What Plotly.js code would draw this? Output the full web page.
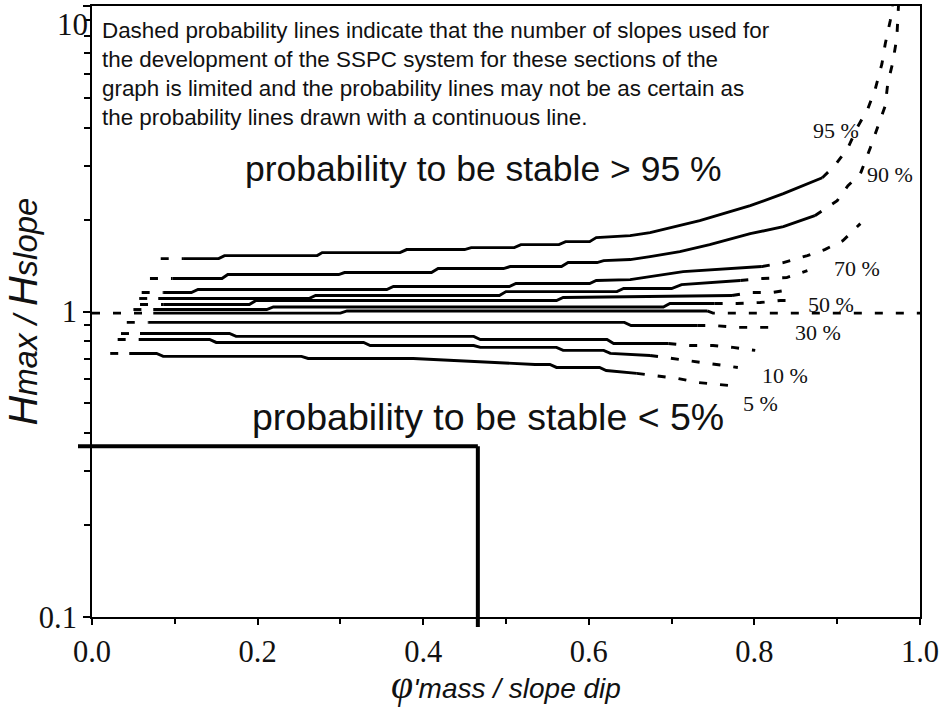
<!DOCTYPE html>
<html>
<head>
<meta charset="utf-8">
<script src="https://cdn.plot.ly/plotly-3.0.1.min.js"></script>
<style>
  html, body { margin: 0; padding: 0; background: #ffffff; }
  #chart { width: 952px; height: 707px; }
</style>
</head>
<body>
<div id="chart"></div>
<script>
// Probability-of-stability lines: phi'mass / slope dip (x) against Hmax / Hslope (y, log).
// Each level has a continuous (well-supported) part and dashed (sparse data) parts.

const levelNames = ['95 %', '90 %', '80 %', '70 %', '60 %', '50 %', '40 %', '30 %', '20 %', '10 %', '5 %'];

// 95 %
const x95 = [0.110, 0.153, 0.160, 0.272, 0.278, 0.372, 0.380, 0.450, 0.458, 0.510, 0.518, 0.564, 0.572, 0.601, 0.609, 0.650, 0.674, 0.734, 0.795, 0.835, 0.882];
const y95 = [1.490, 1.490, 1.524, 1.524, 1.559, 1.559, 1.595, 1.595, 1.619, 1.619, 1.656, 1.656, 1.693, 1.693, 1.745, 1.771, 1.812, 1.984, 2.220, 2.430, 2.741];
const x95d = [0.083, 0.110, null, 0.882, 0.897, 0.913, 0.924, 0.937, 0.946, 0.954, 0.958, 0.964, 0.967];
const y95d = [1.490, 1.490, null, 2.741, 3.000, 3.435, 3.993, 4.607, 5.356, 6.464, 7.511, 8.933, 10.0];

// 90 %
const x90 = [0.097, 0.157, 0.164, 0.298, 0.305, 0.410, 0.418, 0.497, 0.505, 0.567, 0.575, 0.610, 0.618, 0.650, 0.674, 0.710, 0.746, 0.795, 0.835, 0.873];
const y90 = [1.282, 1.282, 1.321, 1.321, 1.341, 1.341, 1.382, 1.382, 1.403, 1.403, 1.446, 1.446, 1.468, 1.479, 1.513, 1.571, 1.656, 1.798, 1.896, 2.059];
const x90d = [0.070, 0.097, null, 0.873, 0.900, 0.913, 0.928, 0.940, 0.949, 0.958, 0.961, 0.967, 0.972, 0.973, 0.974];
const y90d = [1.282, 1.282, null, 2.059, 2.305, 2.581, 2.825, 3.435, 3.993, 4.712, 5.561, 6.512, 7.862, 9.277, 10.0];

// 80 %
const x80 = [0.086, 0.120, 0.128, 0.356, 0.364, 0.504, 0.512, 0.601, 0.609, 0.650, 0.714, 0.758, 0.809];
const y80 = [1.154, 1.154, 1.180, 1.180, 1.207, 1.207, 1.235, 1.235, 1.263, 1.272, 1.351, 1.372, 1.403];
const x80d = [0.060, 0.086, null, 0.809, 0.835, 0.864, 0.885, 0.907, 0.928];
const y80d = [1.154, 1.154, null, 1.403, 1.446, 1.524, 1.595, 1.706, 1.939];

// 70 %
const x70 = [0.080, 0.262, 0.270, 0.492, 0.500, 0.634, 0.642, 0.700, 0.712, 0.783];
const y70 = [1.103, 1.103, 1.128, 1.128, 1.162, 1.162, 1.189, 1.189, 1.225, 1.263];
const x70d = [0.057, 0.080, null, 0.783, 0.810, 0.839, 0.864];
const y70d = [1.103, 1.103, null, 1.263, 1.282, 1.291, 1.361];

// 60 %
const x60 = [0.086, 0.190, 0.198, 0.561, 0.569, 0.773];
const y60 = [1.054, 1.054, 1.086, 1.086, 1.111, 1.128];
const x60d = [0.058, 0.086, null, 0.773, 0.795, 0.821, 0.845];
const y60d = [1.054, 1.054, null, 1.128, 1.154, 1.154, 1.180];

// 50 %
const x50 = [0.074, 0.211, 0.219, 0.690, 0.698, 0.752];
const y50 = [1.015, 1.015, 1.035, 1.035, 1.062, 1.062];
const x50d = [0.050, 0.074, null, 0.752, 0.779, 0.807, 0.831, 0.853];
const y50d = [1.015, 1.015, null, 1.062, 1.062, 1.070, 1.086, 1.086];

// 40 %
const x40 = [0.074, 0.300, 0.308, 0.743];
const y40 = [0.988, 0.988, 1.004, 1.004];
const x40d = [0.0, 0.074, null, 0.743, 0.750, 1.0];
const y40d = [0.988, 0.988, null, 1.004, 0.988, 0.988];

// 30 %
const x30 = [0.068, 0.643, 0.651, 0.731];
const y30 = [0.921, 0.921, 0.900, 0.900];
const x30d = [0.042, 0.068, null, 0.731, 0.750, 0.779, 0.803, 0.829];
const y30d = [0.921, 0.921, null, 0.900, 0.900, 0.887, 0.887, 0.887];

// 20 %
const x20 = [0.058, 0.166, 0.174, 0.461, 0.469, 0.622, 0.630, 0.696];
const y20 = [0.847, 0.847, 0.829, 0.829, 0.810, 0.810, 0.786, 0.786];
const x20d = [0.035, 0.058, null, 0.696, 0.722, 0.750, 0.774, 0.801];
const y20d = [0.847, 0.847, null, 0.786, 0.774, 0.774, 0.763, 0.746];

// 10 %
const x10 = [0.058, 0.142, 0.150, 0.328, 0.336, 0.461, 0.469, 0.561, 0.569, 0.618, 0.626, 0.674];
const y10 = [0.810, 0.810, 0.792, 0.792, 0.774, 0.774, 0.763, 0.763, 0.746, 0.746, 0.729, 0.718];
const x10d = [0.031, 0.058, null, 0.674, 0.702, 0.728, 0.755, 0.780];
const y10d = [0.810, 0.810, null, 0.718, 0.702, 0.686, 0.671, 0.656];

// 5 %
const x5 = [0.045, 0.078, 0.086, 0.253, 0.261, 0.388, 0.535, 0.553, 0.561, 0.613, 0.621, 0.658];
const y5 = [0.729, 0.729, 0.713, 0.713, 0.702, 0.702, 0.671, 0.671, 0.656, 0.656, 0.641, 0.627];
const x5d = [0.022, 0.045, null, 0.658, 0.680, 0.707, 0.731, 0.755, 0.779];
const y5d = [0.729, 0.729, null, 0.627, 0.618, 0.604, 0.586, 0.577, 0.569];

// Worked example read-off: ratio and height ratio of a single slope
const exampleRatio = 0.466;
const exampleHeight = 0.362;

// Axis ticks
const xTickVals = [0.0, 0.2, 0.4, 0.6, 0.8, 1.0];
const xTickText = ['0.0', '0.2', '0.4', '0.6', '0.8', '1.0'];
const xMinorVals = [0.1, 0.3, 0.5, 0.7, 0.9];
const yTickVals = [0.1, 1, 10];
const yTickText = ['0.1', '1', ''];
const yMinorVals = [0.2, 0.3, 0.4, 0.5, 0.6, 0.7, 0.8, 0.9, 2, 3, 4, 5, 6, 7, 8, 9];

const xRange = [0, 1];
const yRange = [-1, 1];   // log10 of 0.1 .. 10

const solidSeries = [[x95, y95], [x90, y90], [x80, y80], [x70, y70], [x60, y60], [x50, y50], [x40, y40], [x30, y30], [x20, y20], [x10, y10], [x5, y5]];
const dashedSeries = [[x95d, y95d], [x90d, y90d], [x80d, y80d], [x70d, y70d], [x60d, y60d], [x50d, y50d], [x40d, y40d], [x30d, y30d], [x20d, y20d], [x10d, y10d], [x5d, y5d]];

const ink = '#000000';
const traces = [];
levelNames.forEach((name, i) => {
  traces.push({
    type: 'scatter', mode: 'lines', name: name + ' (dashed)',
    x: dashedSeries[i][0], y: dashedSeries[i][1],
    line: { color: ink, width: 2.9, dash: '8px,13px' },
    connectgaps: false, hoverinfo: 'skip', showlegend: false
  });
  traces.push({
    type: 'scatter', mode: 'lines', name: name,
    x: solidSeries[i][0], y: solidSeries[i][1],
    line: { color: ink, width: 2.9 },
    hoverinfo: 'skip', showlegend: false
  });
});

const plotW = 828, plotH = 611;
const exampleTop = (Math.log10(exampleHeight) - yRange[0]) / (yRange[1] - yRange[0]);

const sans = 'Liberation Sans, Arial, sans-serif';
const serif = 'Liberation Serif, Times New Roman, serif';

const pctLabels = [
  { text: '95 %', x: 0.899, y: 0.797 },
  { text: '90 %', x: 0.964, y: 0.725 },
  { text: '70 %', x: 0.924, y: 0.571 },
  { text: '50 %', x: 0.893, y: 0.511 },
  { text: '30 %', x: 0.877, y: 0.465 },
  { text: '10 %', x: 0.837, y: 0.396 },
  { text: '5 %',  x: 0.807, y: 0.349 }
];

const annotations = pctLabels.map(l => ({
  xref: 'paper', yref: 'paper', x: l.x, y: l.y, text: l.text, showarrow: false,
  xanchor: 'center', yanchor: 'middle', font: { family: serif, size: 22, color: '#111' }
}));

annotations.push({
  xref: 'paper', yref: 'paper', x: 0.0097, y: 0.984, xanchor: 'left', yanchor: 'top', align: 'left',
  showarrow: false,
  text: 'Dashed probability lines indicate that the number of slopes used for<br>' +
        'the development of the SSPC system for these sections of the<br>' +
        'graph is limited and the probability lines may not be as certain as<br>' +
        'the probability lines drawn with a continuous line.',
  font: { family: sans, size: 22.4, color: '#111' }
});
annotations.push({
  xref: 'paper', yref: 'paper', x: 0.473, y: 0.734, xanchor: 'center', yanchor: 'middle', showarrow: false,
  text: 'probability to be stable &gt; 95 %', font: { family: sans, size: 35.5, color: '#111' }
});
annotations.push({
  xref: 'paper', yref: 'paper', x: 0.478, y: 0.327, xanchor: 'center', yanchor: 'middle', showarrow: false,
  text: 'probability to be stable &lt; 5%', font: { family: sans, size: 37.5, color: '#111' }
});
// upper decade label
annotations.push({
  xref: 'paper', yref: 'paper', x: 0, y: 0.970, xanchor: 'right', yanchor: 'middle', showarrow: false,
  xshift: -2, text: '10', font: { family: serif, size: 31, color: '#111' }
});

const shapes = [
  { type: 'line', xref: 'paper', yref: 'y', x0: -14 / plotW, x1: exampleRatio,
    y0: exampleHeight, y1: exampleHeight, line: { color: ink, width: 4 } },
  { type: 'line', xref: 'x', yref: 'paper', x0: exampleRatio, x1: exampleRatio,
    y0: -10 / plotH, y1: exampleTop, line: { color: ink, width: 4 } }
];

const layout = {
  width: 952, height: 707,
  margin: { l: 92, r: 32, t: 6, b: 90 },
  paper_bgcolor: '#ffffff', plot_bgcolor: '#ffffff',
  showlegend: false,
  xaxis: {
    range: xRange, showgrid: false, zeroline: false,
    showline: true, mirror: true, linecolor: ink, linewidth: 2,
    tickmode: 'array', tickvals: xTickVals, ticktext: xTickText,
    ticks: 'outside', ticklen: 6, tickwidth: 2, tickcolor: ink,
    minor: { tickmode: 'array', tickvals: xMinorVals, ticks: 'outside', ticklen: 5, tickwidth: 2, tickcolor: ink, showgrid: false },
    tickfont: { family: serif, size: 30.5, color: '#111' },
    title: {
      text: '<i><span style="font-family:Liberation Serif;font-size:40px">φ</span>\'mass / slope dip</i>',
      font: { family: sans, size: 28, color: '#111' }, standoff: 4
    },
    automargin: false
  },
  yaxis: {
    type: 'log', range: yRange, showgrid: false, zeroline: false,
    showline: true, mirror: true, linecolor: ink, linewidth: 2,
    tickmode: 'array', tickvals: yTickVals, ticktext: yTickText,
    ticks: 'outside', ticklen: 7, tickwidth: 2, tickcolor: ink,
    minor: { tickmode: 'array', tickvals: yMinorVals, ticks: 'outside', ticklen: 6, tickwidth: 2, tickcolor: ink, showgrid: false },
    tickfont: { family: serif, size: 30.5, color: '#111' },
    title: {
      text: '<i><span style="font-size:41px">H</span>max / <span style="font-size:41px">H</span>slope</i>',
      font: { family: sans, size: 33, color: '#111' }, standoff: 4
    },
    automargin: false
  },
  annotations: annotations,
  shapes: shapes
};

Plotly.newPlot('chart', traces, layout, { displayModeBar: false, staticPlot: true });
</script>
</body>
</html>
